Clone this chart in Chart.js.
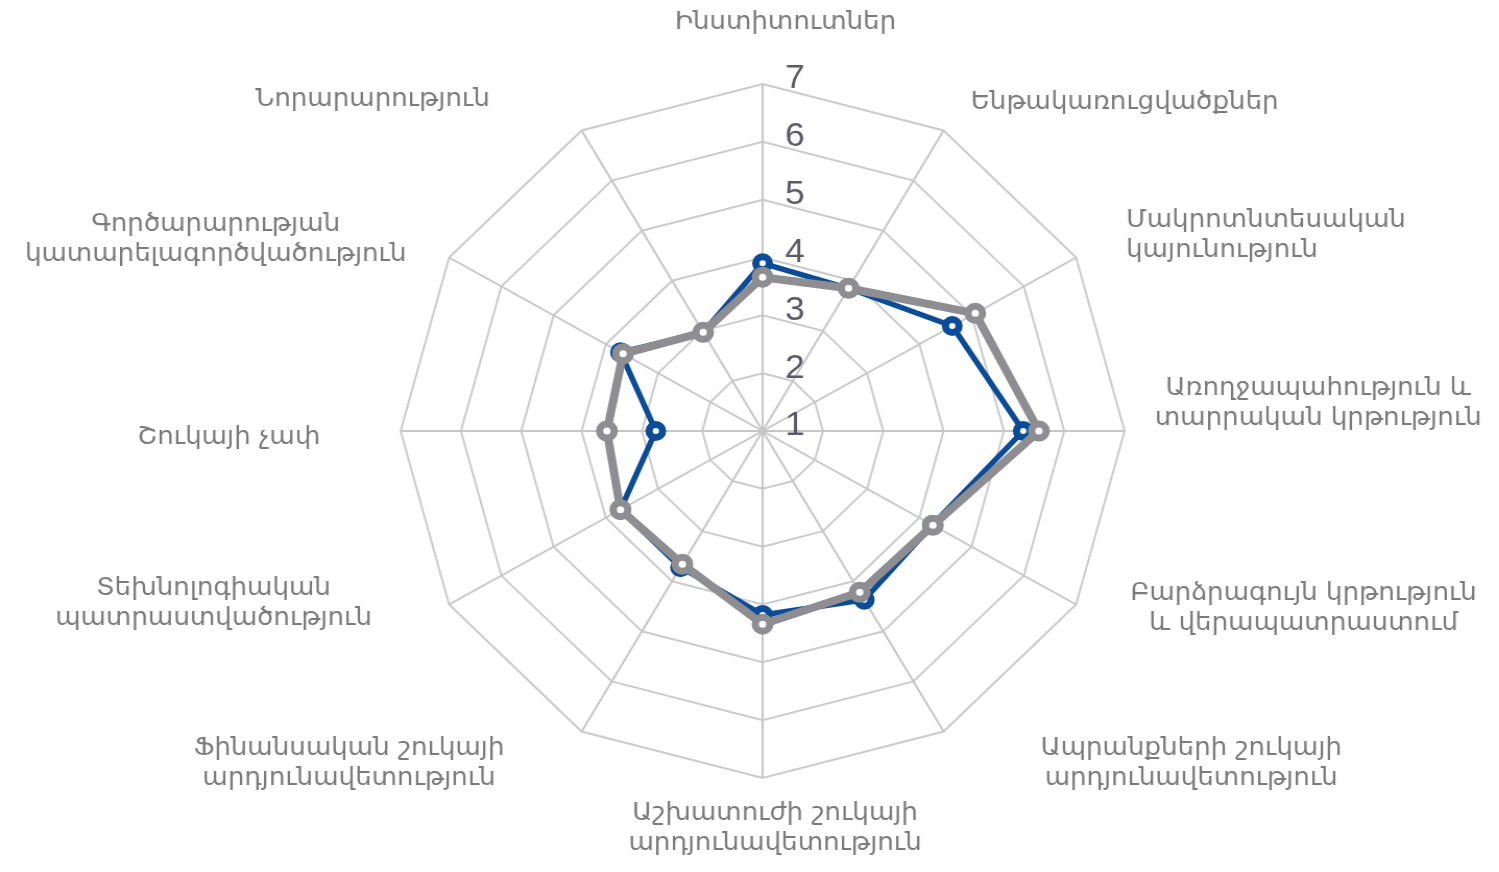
<!DOCTYPE html>
<html>
<head>
<meta charset="utf-8">
<script src="https://cdn.jsdelivr.net/npm/chart.js@4.4.1/dist/chart.umd.min.js"></script>
<style>
  html, body { margin: 0; padding: 0; background: #ffffff; overflow: hidden; }
  /* the reference picture is a little wider than it is tall */
  #wrap { width: 1437px; height: 872px; transform: scaleX(1.0432); transform-origin: 0 0; }
</style>
</head>
<body>
<div id="wrap"><canvas id="myChart" width="1437" height="872"></canvas></div>
<script>
// axis names, clockwise from the top
const categories = [
  ['Ինստիտուտներ'],
  ['Ենթակառուցվածքներ'],
  ['Մակրոտնտեսական', 'կայունություն'],
  ['Առողջապահություն և', 'տարրական կրթություն'],
  ['Բարձրագույն կրթություն', 'և վերապատրաստում'],
  ['Ապրանքների շուկայի', 'արդյունավետություն'],
  ['Աշխատուժի շուկայի', 'արդյունավետություն'],
  ['Ֆինանսական շուկայի', 'արդյունավետություն'],
  ['Տեխնոլոգիական', 'պատրաստվածություն'],
  ['Շուկայի չափ'],
  ['Գործարարության', 'կատարելագործվածություն'],
  ['Նորարարություն']
];
const blueValues = [3.9, 3.85, 4.63, 5.32, 4.25, 4.37, 4.18, 3.72, 3.72, 2.77, 3.72, 2.97];
const greyValues = [3.66, 3.85, 5.07, 5.58, 4.26, 4.22, 4.34, 3.66, 3.72, 3.58, 3.67, 2.97];
const tickValues = [1, 2, 3, 4, 5, 6, 7];

// small shifts so the axis names sit where they do in the picture
const labelShift = [[22, -24], [-13, 5], [-5, -3], [-29, -28], [-1, -15], [54, -1],
                    [12, 12], [-35, -1], [-21, -20], [-19, 6], [12, 1], [-49, 2]];

const axisText = {
  id: 'axisText',
  afterDraw(chart) {
    const r = chart.scales.r;
    const ctx = chart.ctx;
    ctx.save();

    // value labels to the right of the vertical axis
    ctx.font = '34px "Liberation Sans Narrow", "Liberation Sans", sans-serif';
    ctx.fillStyle = '#5a5a68';
    ctx.textAlign = 'center';
    ctx.textBaseline = 'middle';
    tickValues.forEach(v => {
      const d = r.getDistanceFromCenterForValue(v);
      ctx.fillText(String(v), r.xCenter + 31, r.yCenter - d - 5);
    });

    // axis names
    ctx.font = '25px "DejaVu Sans", sans-serif';
    ctx.fillStyle = '#7b7b7b';
    const lineH = 30;
    categories.forEach((lines, i) => {
      const p = r.getPointPosition(i, r.drawingArea + 38);
      const ang = i * Math.PI * 2 / categories.length;
      const s = Math.sin(ang);
      const w = Math.max(...lines.map(t => ctx.measureText(t).width));
      let cx = p.x;
      if (s > 0.1) cx = p.x + 20 + w / 2;
      else if (s < -0.1) cx = p.x - 20 - w / 2;
      cx += labelShift[i][0];
      const cy = p.y + labelShift[i][1];
      const top = cy - (lines.length - 1) * lineH / 2;
      // the macro-economic label is left aligned in the picture
      ctx.textAlign = i === 2 ? 'left' : 'center';
      const x = i === 2 ? cx - w / 2 : cx;
      lines.forEach((t, k) => ctx.fillText(t, x, top + k * lineH));
    });
    ctx.restore();
  }
};

const ctx = document.getElementById('myChart');

new Chart(ctx, {
  type: 'radar',
  data: {
    labels: categories,
    datasets: [{
      label: 'grey',
      data: greyValues,
      order: 0,
      borderColor: '#8d8d92',
      borderWidth: 8,
      pointRadius: 7,
      pointBorderWidth: 7,
      pointBackgroundColor: '#ffffff',
      pointBorderColor: '#8d8d92',
      fill: false
    }, {
      label: 'blue',
      data: blueValues,
      order: 1,
      borderColor: '#0b4c98',
      borderWidth: 5.5,
      pointRadius: 6.5,
      pointBorderWidth: 7,
      pointBackgroundColor: '#ffffff',
      pointBorderColor: '#0b4c98',
      fill: false
    }]
  },
  plugins: [axisText],
  options: {
    responsive: false,
    animation: false,
    devicePixelRatio: 1,
    layout: { padding: { top: 84, bottom: 94, left: 384, right: 359 } },
    elements: { line: { tension: 0, borderJoinStyle: 'round' } },
    scales: {
      r: {
        min: 1,
        max: 7,
        ticks: { stepSize: 1, display: false },
        pointLabels: { display: false },
        grid: { color: '#cbcbcb', lineWidth: 2 },
        angleLines: { color: '#c6c6c6', lineWidth: 2 }
      }
    },
    plugins: { legend: { display: false }, tooltip: { enabled: false } }
  }
});
</script>
</body>
</html>
